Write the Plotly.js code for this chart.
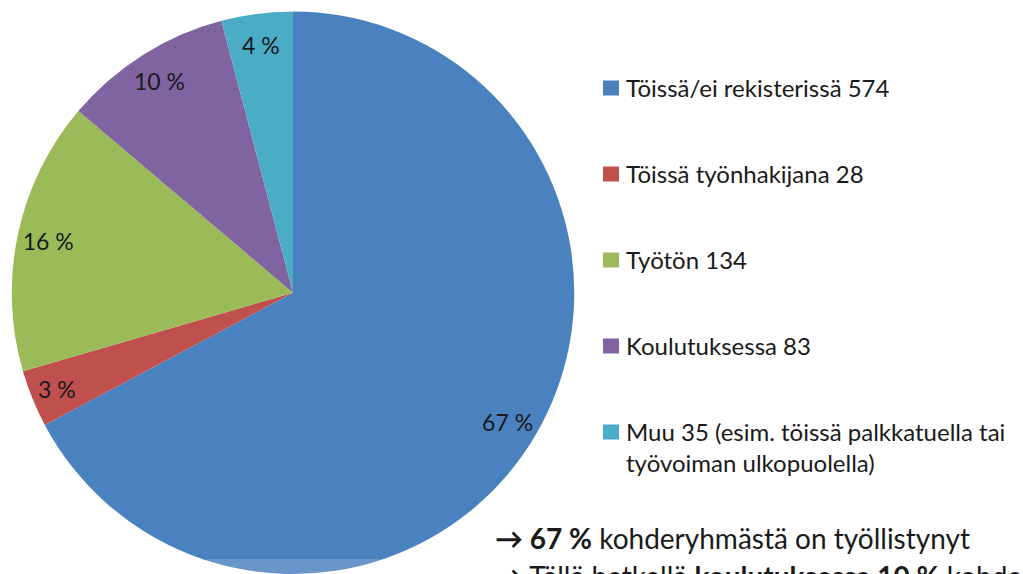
<!DOCTYPE html>
<html>
<head>
<meta charset="utf-8">
<script src="https://cdn.plot.ly/plotly-3.0.1.min.js"></script>
<style>html,body{margin:0;padding:0;background:#fff;}#chart{width:1023px;height:574px;}</style>
</head>
<body>
<div id="chart"></div>
<script>
// Data
const categories = ["Töissä/ei rekisterissä", "Töissä työnhakijana", "Työtön", "Koulutuksessa", "Muu"];
const values = [574, 28, 134, 83, 35];
const legendLabels = [
  "Töissä/ei rekisterissä 574",
  "Töissä työnhakijana 28",
  "Työtön 134",
  "Koulutuksessa 83",
  "Muu 35 (esim. töissä palkkatuella tai<br>työvoiman ulkopuolella)"
];
const colors = ["#4A81BF", "#C0504D", "#9BBB59", "#8064A2", "#4BACC6"];
const noteLines = [
  "<b>→ 67 %</b> kohderyhmästä on työllistynyt",
  "<b>→</b> Tällä hetkellä <b>koulutuksessa 10 %</b> kohderyhmästä"
];

const W = 1023, H = 574;
const FONT = "Lato, 'Open Sans', sans-serif";
const total = values.reduce((a, b) => a + b, 0);
const pctText = values.map(v => Math.round(v / total * 100) + " %");
const domain = {x: [11.7 / W, 574.3 / W], y: [0, 1 - 11.5 / H]};

// Filled pie (no text)
const pieTrace = {
  type: "pie",
  labels: categories,
  values: values,
  textinfo: "none",
  marker: {colors: colors, line: {width: 0}},
  sort: false,
  direction: "clockwise",
  rotation: 0,
  showlegend: false,
  hoverinfo: "label+value+percent",
  domain: domain
};

// Transparent ring carrying the percentage labels near the outer edge
const labelTrace = {
  type: "pie",
  labels: categories,
  values: values,
  text: pctText,
  texttemplate: "%{text}",
  textinfo: "text",
  textposition: "inside",
  insidetextorientation: "horizontal",
  insidetextfont: {family: FONT, size: 23, color: "#1a1a1a"},
  marker: {colors: values.map(() => "rgba(0,0,0,0)"), line: {width: 0}},
  hole: 0.78,
  sort: false,
  direction: "clockwise",
  rotation: 0,
  showlegend: false,
  hoverinfo: "skip",
  domain: domain
};

const annotations = [];
const shapes = [];
const legendTop = 88, legendStep = 86;
legendLabels.forEach((lab, i) => {
  const yc = legendTop + i * legendStep;
  shapes.push({
    type: "rect", xref: "paper", yref: "paper",
    x0: 603 / W, x1: 619 / W, y0: 1 - (yc - 7.5) / H, y1: 1 - (yc + 7.5) / H,
    fillcolor: colors[i], line: {width: 0}
  });
  annotations.push({
    xref: "paper", yref: "paper", x: 624 / W, y: 1 - (yc - 17) / H,
    xanchor: "left", yanchor: "top", align: "left", showarrow: false,
    text: lab, font: {family: FONT, size: 24, color: "#1a1a1a"}
  });
});

// semi-transparent text box behind the notes
shapes.push({
  type: "rect", xref: "paper", yref: "paper",
  x0: 207 / W, x1: 1, y0: 1 - 559 / H, y1: -0.1,
  fillcolor: "rgba(255,255,255,0.17)", line: {width: 0}, layer: "above"
});

noteLines.forEach((t, i) => {
  annotations.push({
    xref: "paper", yref: "paper", x: 493 / W, y: 1 - (538 + i * 38) / H,
    xanchor: "left", yanchor: "middle", align: "left", showarrow: false,
    text: t, font: {family: FONT, size: 28, color: "#1a1a1a"}
  });
});

const layout = {
  width: W, height: H,
  margin: {l: 0, r: 0, t: 0, b: 0},
  paper_bgcolor: "#ffffff",
  plot_bgcolor: "#ffffff",
  showlegend: false,
  shapes: shapes,
  annotations: annotations,
  font: {family: FONT}
};

Plotly.newPlot("chart", [pieTrace, labelTrace], layout, {displayModeBar: false, staticPlot: true});
</script>
</body>
</html>
